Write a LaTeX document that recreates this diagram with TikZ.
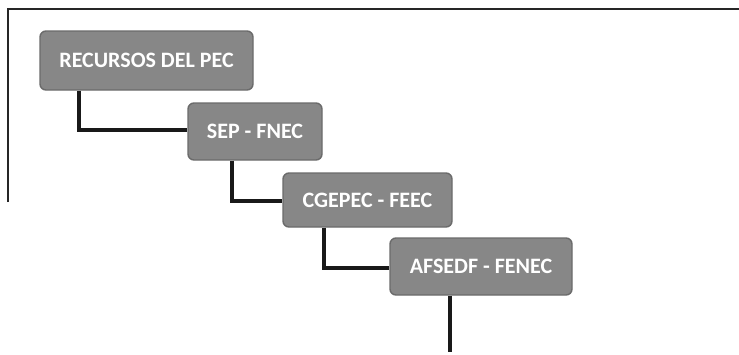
\documentclass[tikz,border=0pt]{standalone}
\usepackage{fontspec}
\setmainfont{Carlito}
\begin{document}
\begin{tikzpicture}[x=1pt,y=-1pt,
  box/.style={draw=black!58,line width=1.4pt,fill=black!47,rounded corners=6pt,
    text=white,font=\bfseries\fontsize{22}{24}\selectfont,inner sep=0pt},
  conn/.style={line width=3.6pt,black!90},
  frame/.style={line width=1.6pt,black!85}]
\useasboundingbox (0,0) rectangle (739,354);
\fill[white] (0,0) rectangle (739,354);
\coordinate (ftl) at (8,9);
\coordinate (ftr) at (739,9);
\coordinate (fbl) at (8,202);
\draw[frame] (fbl) -- (ftl) -- (ftr);
\node[box,minimum width=213pt,minimum height=59pt] (b1) at (146.5,60.5) {RECURSOS DEL PEC};
\node[box,minimum width=134pt,minimum height=57pt] (b2) at (255,131.5) {SEP - FNEC};
\node[box,minimum width=169pt,minimum height=54pt] (b3) at (367.5,200) {CGEPEC - FEEC};
\node[box,minimum width=182pt,minimum height=57pt] (b4) at (481,266.5) {AFSEDF - FENEC};
\coordinate (c1) at (79,130);
\coordinate (c2) at (232,201);
\coordinate (c3) at (324,268);
\coordinate (c4) at (450,352);
\draw[conn] (b1.south -| c1) -- (c1) -- (b2.west |- c1);
\draw[conn] (b2.south -| c2) -- (c2) -- (b3.west |- c2);
\draw[conn] (b3.south -| c3) -- (c3) -- (b4.west |- c3);
\draw[conn] (b4.south -| c4) -- (c4);
\end{tikzpicture}
\end{document}
